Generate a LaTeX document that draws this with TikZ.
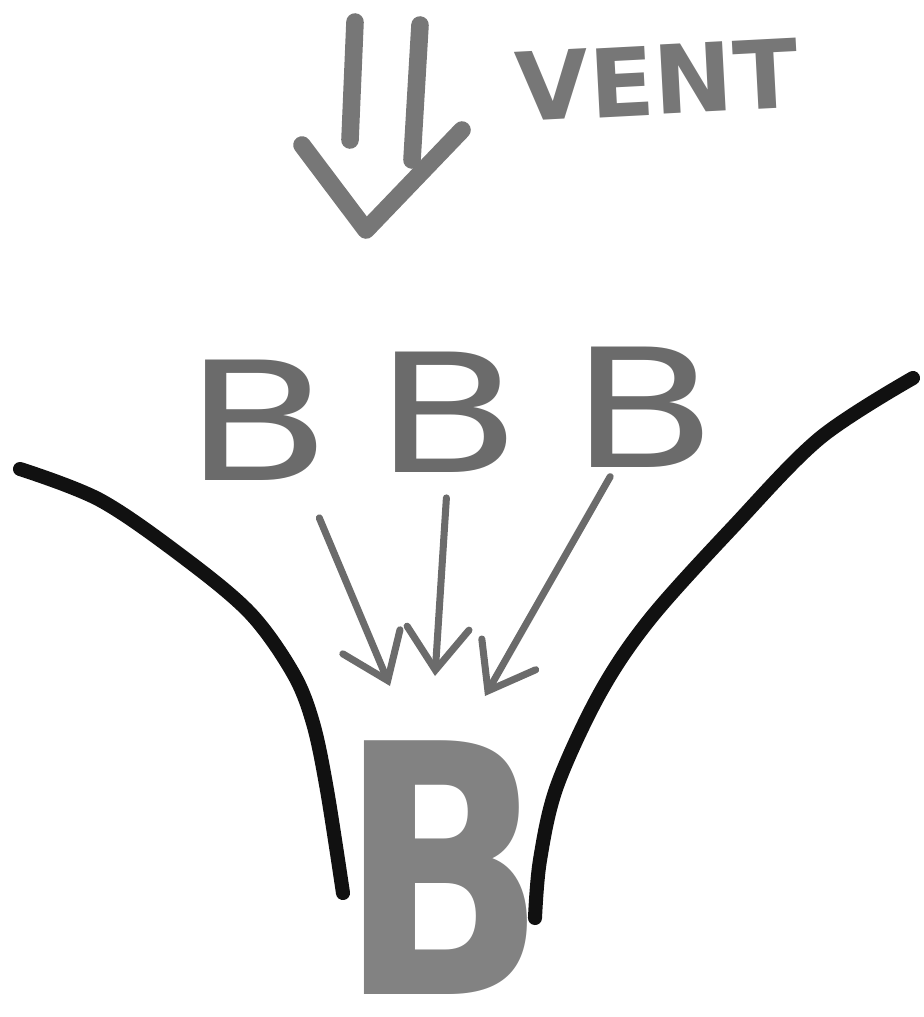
\documentclass[tikz,border=0pt]{standalone}
\usepackage{fontspec}
\setmainfont{DejaVu Sans}
\usepackage{xcolor}
\usetikzlibrary{arrows.meta,positioning}
\definecolor{skgray}{HTML}{777777}
\definecolor{skletter}{HTML}{6B6B6B}
\definecolor{skbig}{HTML}{828282}
\definecolor{skink}{HTML}{111111}
\tikzset{
  letter/.style={text=skletter,inner sep=0pt,font=\fontsize{47}{47}\selectfont,xscale=1.3},
  bigletter/.style={text=skbig,inner sep=0pt,font=\fontsize{99}{99}\selectfont\bfseries,xscale=0.78},
  word/.style={text=skgray,inner sep=0pt,font=\fontsize{27}{27}\selectfont\bfseries},
  wind/.style={draw=skgray,line width=5pt,line cap=round,line join=round},
  slope/.style={draw=skink,line width=4pt,line cap=round},
  ar/.style={-{Straight Barb[length=0.42cm,width=0.62cm,line cap=round]},draw=skletter,line width=2pt,line cap=round},
}
\begin{document}
\begin{tikzpicture}[x=0.01cm,y=-0.01cm]
  \useasboundingbox (0,0) rectangle (924,1017);
  % wind
  \draw[wind] (355,22) -- (350,140);
  \draw[wind] (420,25) -- (412,160);
  \draw[wind] (302,145) -- (366,230) -- (462,130);
  \node[word,rotate=3] (vent) at (657,80) {VENT};
  % valley sides
  \draw[slope] plot[smooth,tension=0.55] coordinates {(20,469) (100,500) (183,557) (250,613) (293,673) (313,723) (327,790) (343,893)};
  \draw[slope] plot[smooth,tension=0.55] coordinates {(913,378) (820,438) (733,527) (650,619) (600,693) (557,786) (540,860) (535,918)};
  % particles
  \node[letter] (b1) at (258,420) {B};
  \node[letter] (b2) at (448,412) {B};
  \node[letter] (b3) at (644,407) {B};
  \node[bigletter] (bigb) at (443,868) {B};
  \coordinate (t1) at (390,686);
  \coordinate (t2) at (435,676);
  \coordinate (t3) at (485,696);
  \draw[ar,shorten <=0.4cm] (b1.-60) -- (t1);
  \draw[ar,shorten <=0.25cm] (b2.south) -- (t2);
  \draw[ar,shorten <=0.1cm] (b3.-110) -- (t3);
\end{tikzpicture}
\end{document}
